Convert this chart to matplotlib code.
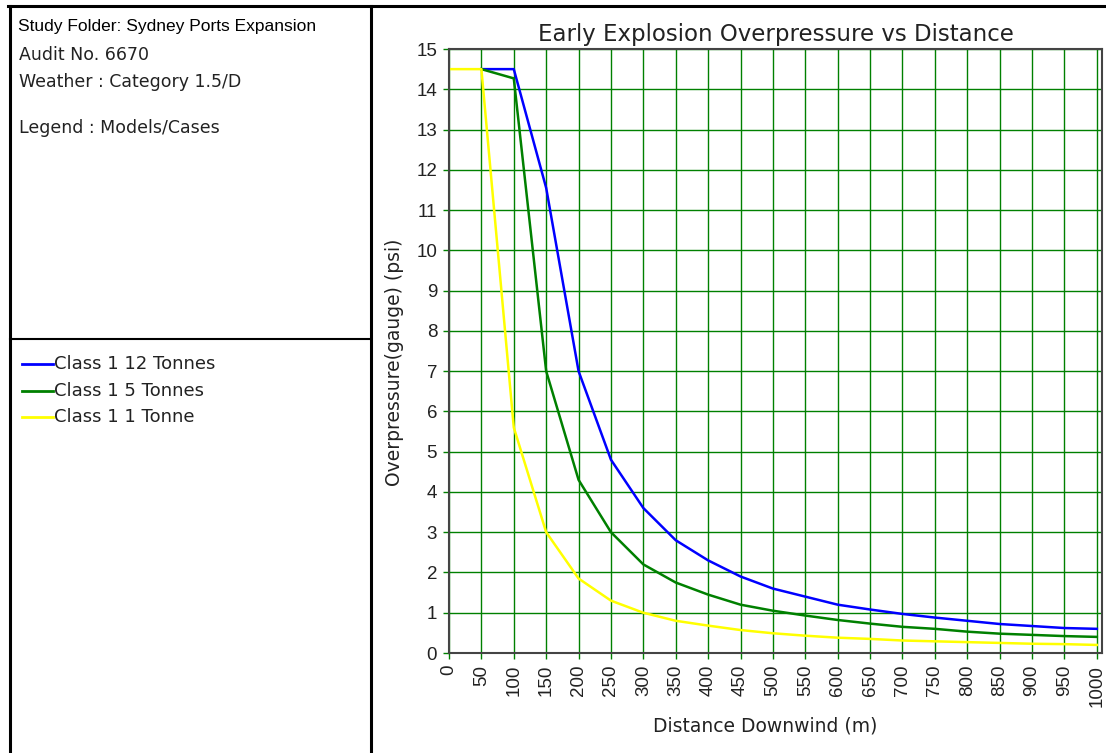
import matplotlib
matplotlib.use("Agg")
import matplotlib.pyplot as plt
from matplotlib.lines import Line2D

plt.rcParams['font.family'] = ['DejaVu Sans']

# data (50 m steps)
dist = [0, 50, 100, 150, 200, 250, 300, 350, 400, 450, 500,
        550, 600, 650, 700, 750, 800, 850, 900, 950, 1000]

blue_12t = [None, 14.5, 14.5, 11.55, 7.0, 4.8, 3.6, 2.8, 2.3, 1.9, 1.6,
            1.4, 1.2, 1.08, 0.97, 0.88, 0.8, 0.72, 0.67, 0.62, 0.6]
green_5t = [None, 14.5, 14.27, 7.0, 4.3, 3.0, 2.2, 1.75, 1.45, 1.2, 1.05,
            0.93, 0.82, 0.73, 0.65, 0.6, 0.53, 0.48, 0.45, 0.42, 0.4]
yellow_1t = [14.5, 14.5, 5.6, 3.0, 1.85, 1.3, 1.0, 0.8, 0.68, 0.57, 0.49,
             0.43, 0.38, 0.35, 0.31, 0.29, 0.27, 0.25, 0.23, 0.22, 0.2]

series_names = ['Class 1 12 Tonnes', 'Class 1 5 Tonnes', 'Class 1 1 Tonne']
series_colors = ['#0000FF', '#008000', '#FFFF00']

info_lines = ['Study Folder: Sydney Ports Expansion', 'Audit No. 6670',
              'Weather : Category 1.5/D']

fig = plt.figure(figsize=(11.06, 7.53), dpi=100)
W, H = 1106.0, 753.0
txt = '#222222'


def fx(px):
    return px / W


def fy(py):
    return 1 - py / H


# panel borders
fig.add_artist(Line2D([fx(8), fx(1106)], [fy(6), fy(6)], color='black', lw=2.2))
fig.add_artist(Line2D([fx(10), fx(10)], [fy(6), fy(753)], color='black', lw=2.2))
fig.add_artist(Line2D([fx(371), fx(371)], [fy(6), fy(753)], color='black', lw=2.2))
fig.add_artist(Line2D([fx(10), fx(371)], [fy(339), fy(339)], color='black', lw=1.5))

# info text
fig.text(fx(18), fy(27), info_lines[0], fontsize=12.5, va='center', ha='left',
         family=['Liberation Sans Narrow', 'Liberation Sans'])
fig.text(fx(19), fy(55), info_lines[1], fontsize=12.5, va='center', ha='left', color=txt)
fig.text(fx(19), fy(82), info_lines[2], fontsize=12.5, va='center', ha='left', color=txt)
fig.text(fx(19), fy(128), 'Legend : Models/Cases', fontsize=12.5, va='center', ha='left', color=txt)

# legend in left panel
for i, (name, col) in enumerate(zip(series_names, series_colors)):
    yy = fy(364 + 26.5 * i)
    fig.add_artist(Line2D([fx(22), fx(53)], [yy, yy], color=col, lw=2))
    fig.text(fx(54), yy, name, fontsize=13, va='center', ha='left', color=txt)

# chart
ax = fig.add_axes([fx(449), fy(653), fx(1102) - fx(449), fy(49) - fy(653)])
ax.plot(dist[1:], blue_12t[1:], color=series_colors[0], lw=1.8)
ax.plot(dist[1:], green_5t[1:], color=series_colors[1], lw=1.8)
ax.plot(dist, yellow_1t, color=series_colors[2], lw=1.8)

ax.set_xlim(0, 1008)
ax.set_ylim(0, 15)
ax.set_xticks(dist)
ax.set_xticklabels([str(d) for d in dist], rotation=90)
ax.set_yticks(range(0, 16))
ax.tick_params(axis='both', colors='#008000', length=4.5, width=1, labelcolor=txt,
               labelsize=13.5, pad=4)
for lab in ax.get_xticklabels() + ax.get_yticklabels():
    lab.set_family('Liberation Sans')
ax.grid(True, color='#008000', lw=1)
ax.set_axisbelow(True)
for s in ax.spines.values():
    s.set_color('#444444')
    s.set_linewidth(1.5)

fig.text(fx(776), fy(34), 'Early Explosion Overpressure vs Distance', fontsize=16.5,
         color=txt, ha='center', va='center')
ax.set_xlabel('Distance Downwind (m)', fontsize=13.5, color=txt)
ax.xaxis.set_label_coords((765 - 449) / 653.0, -(716 - 653) / 604.0)
ax.set_ylabel('Overpressure(gauge) (psi)', fontsize=13.5, color=txt, va='center')
ax.yaxis.set_label_coords(-(449 - 394) / 653.0, (653 - 362) / 604.0)

fig.savefig('out.png', dpi=100)
